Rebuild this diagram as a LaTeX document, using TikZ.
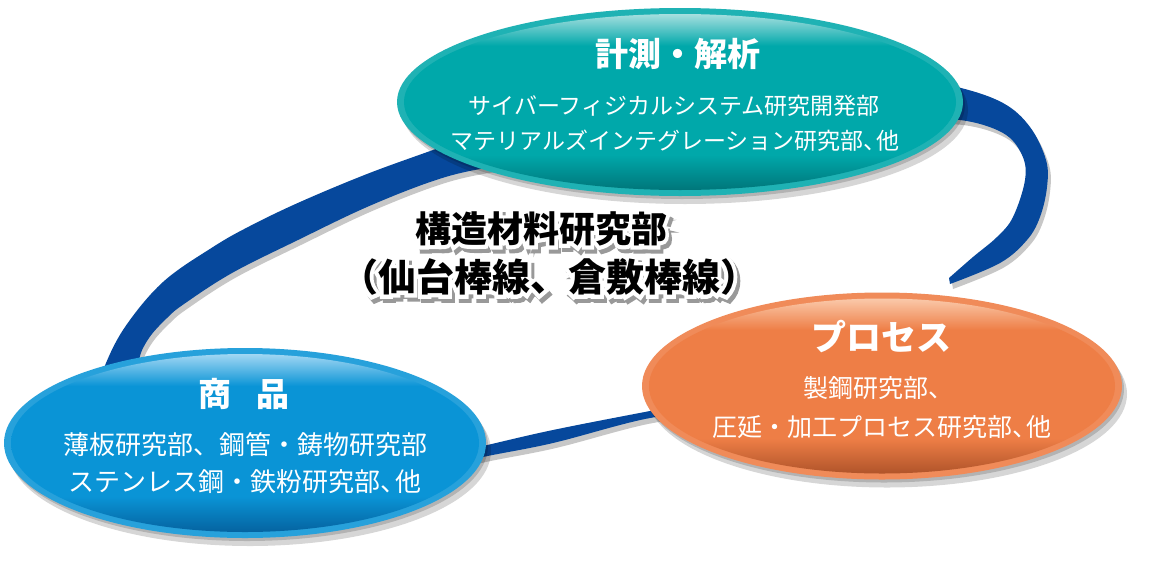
\documentclass[tikz,border=0pt]{standalone}
\usepackage{fontspec}
\newfontfamily\cjk{Noto Sans CJK JP}
\newfontfamily\cjkol{Noto Sans CJK JP}[UprightFeatures={FakeBold=20}, BoldFeatures={FakeBold=20}]
\usetikzlibrary{shapes.geometric}
\definecolor{tealbase}{HTML}{00A8AA}
\definecolor{teallight}{HTML}{A6DFDF}
\definecolor{tealdark}{HTML}{00767A}
\definecolor{orgbase}{HTML}{EE7E46}
\definecolor{orglight}{HTML}{FAC9AA}
\definecolor{orgdark}{HTML}{B0542A}
\definecolor{bluebase}{HTML}{0A94D6}
\definecolor{bluelight}{HTML}{A2D7F3}
\definecolor{bluedark}{HTML}{0563A0}
\definecolor{ribboncol}{HTML}{06489C}
\pgfdeclareverticalshading{tealsh}{100bp}{color(0bp)=(tealdark); color(25bp)=(tealdark); color(35bp)=(tealbase); color(66bp)=(tealbase); color(75bp)=(teallight); color(100bp)=(teallight)}
\pgfdeclareverticalshading{orgsh}{100bp}{color(0bp)=(orgdark); color(25bp)=(orgdark); color(35bp)=(orgbase); color(66bp)=(orgbase); color(75bp)=(orglight); color(100bp)=(orglight)}
\pgfdeclareverticalshading{bluesh}{100bp}{color(0bp)=(bluedark); color(25bp)=(bluedark); color(35bp)=(bluebase); color(66bp)=(bluebase); color(75bp)=(bluelight); color(100bp)=(bluelight)}
\newcommand\myRibA{plot[smooth,tension=0.6] coordinates {(950,284) (1000,263) (1027,240) (1040,217) (1047,187) (1046,160) (1030,127) (1003,103) (957,87) (900,78)} -- plot[smooth,tension=0.6] coordinates {(900,120) (960,120) (1003,133) (1022,155) (1025,180) (1013,217) (997,237) (973,257) (949,278)} -- cycle}
\newcommand\myRibB{plot[smooth,tension=0.6] coordinates {(500,126) (433,150) (367,174) (300,202) (250,226) (213,247) (163,282) (125,327) (104,368) (98,395)} -- plot[smooth,tension=0.6] coordinates {(137,395) (139,360) (149,338) (167,318) (184,304) (232,273) (298,240) (367,207) (433,181) (480,169) (540,161)} -- cycle}
\newcommand\myRibC{plot[smooth,tension=0.6] coordinates {(430,458) (483,446) (553,430) (650,411) (720,398)} -- plot[smooth,tension=0.6] coordinates {(720,412) (650,418) (553,443) (483,457) (430,470)} -- cycle}
\begin{document}
\begin{tikzpicture}[x=1pt,y=-1pt,
  ribbon/.style={fill=ribboncol},
  ribshadow/.style={fill=black, opacity=0.22},
  oval/.style={ellipse, inner sep=0pt, draw=none},
  ovalshadow/.style={oval, fill=black, opacity=0.16},
  ttl/.style={text=white, inner sep=0pt, font=\cjk\bfseries\fontsize{33}{36}\selectfont},
  sub/.style={text=white, inner sep=0pt, font=\cjk\fontsize{23}{26}\selectfont},
  ctrA/.style={inner sep=0pt, font=\cjk\bfseries\fontsize{36}{40}\selectfont},
  ctrB/.style={inner sep=0pt, font=\cjk\bfseries\fontsize{38}{42}\selectfont},
  olA/.style={inner sep=0pt, font=\cjkol\bfseries\fontsize{36}{40}\selectfont},
  olB/.style={inner sep=0pt, font=\cjkol\bfseries\fontsize{38}{42}\selectfont}]
\useasboundingbox (0,0) rectangle (1150,570);
\fill[white] (0,0) rectangle (1150,570);
% ribbon shadow and ribbon
\fill[ribshadow, shift={(3,5)}] \myRibA;
\fill[ribshadow, shift={(3,5)}] \myRibB;
\fill[ribshadow, shift={(3,5)}] \myRibC;
\fill[ribbon] \myRibA;
\fill[ribbon] \myRibB;
\fill[ribbon] \myRibC;
% teal
\node[ovalshadow, minimum width=566pt, minimum height=188pt] (tealS1) at (685,110) {};
\node[ovalshadow, minimum width=566pt, minimum height=188pt] (tealS2) at (682,105) {};
\node[oval, fill=tealbase!88!white, minimum width=566pt, minimum height=188pt] (teal) at (680,102) {};
\node[oval, shade, shading=tealsh, minimum width=552pt, minimum height=176pt] (tealIn) at (680,102) {};
% orange
\node[ovalshadow, minimum width=480pt, minimum height=187pt] (orgS1) at (887,394) {};
\node[ovalshadow, minimum width=480pt, minimum height=187pt] (orgS2) at (884,389) {};
\node[oval, fill=orgbase!90!white, minimum width=480pt, minimum height=187pt] (org) at (882,386) {};
\node[oval, shade, shading=orgsh, minimum width=466pt, minimum height=175pt] (orgIn) at (882,386) {};
% blue
\node[ovalshadow, minimum width=482pt, minimum height=190pt] (blueS1) at (250,451) {};
\node[ovalshadow, minimum width=482pt, minimum height=190pt] (blueS2) at (247,446) {};
\node[oval, fill=bluebase!88!white, minimum width=482pt, minimum height=190pt] (blue) at (245,443) {};
\node[oval, shade, shading=bluesh, minimum width=468pt, minimum height=178pt] (blueIn) at (245,443) {};
% teal texts
\node[ttl] (tealT) at (678,54) {計測・解析};
\node[sub] (tealL1) at (674,106) {サイバーフィジカルシステム研究開発部};
\node[sub] (tealL2) at (675,141) {マテリアルズインテグレーション研究部、\kern-.45em他};
% orange texts
\node[ttl, font=\cjk\bfseries\fontsize{35}{38}\selectfont] (orgT) at (881,337) {プロセス};
\node[sub, font=\cjk\fontsize{25}{28}\selectfont] (orgL1) at (878,388) {製鋼研究部、};
\node[sub, font=\cjk\fontsize{25}{28}\selectfont] (orgL2) at (882,427) {圧延・加工プロセス研究部、\kern-.45em他};
% blue texts
\node[ttl] (blueT) at (244,394) {商\hspace{26pt}品};
\node[sub, font=\cjk\fontsize{26}{29}\selectfont] (blueL1) at (245,445) {薄板研究部、鋼管・鋳物研究部};
\node[sub, font=\cjk\fontsize{26}{29}\selectfont] (blueL2) at (245,482) {ステンレス鋼・鉄粉研究部、\kern-.45em他};
% centre text: shadow, white outline, black fill
\node[olA, text=black!40] (ctr1S) at (544,233) {構造材料研究部};
\node[olB, text=black!40] (ctr2S) at (552,281) {（仙台棒線、倉敷棒線）};
\node[olA, text=white] (ctr1O) at (541,229) {構造材料研究部};
\node[olB, text=white] (ctr2O) at (549,277) {（仙台棒線、倉敷棒線）};
\node[ctrA, text=black] (ctr1) at (541,229) {構造材料研究部};
\node[ctrB, text=black] (ctr2) at (549,277) {（仙台棒線、倉敷棒線）};
\end{tikzpicture}
\end{document}
